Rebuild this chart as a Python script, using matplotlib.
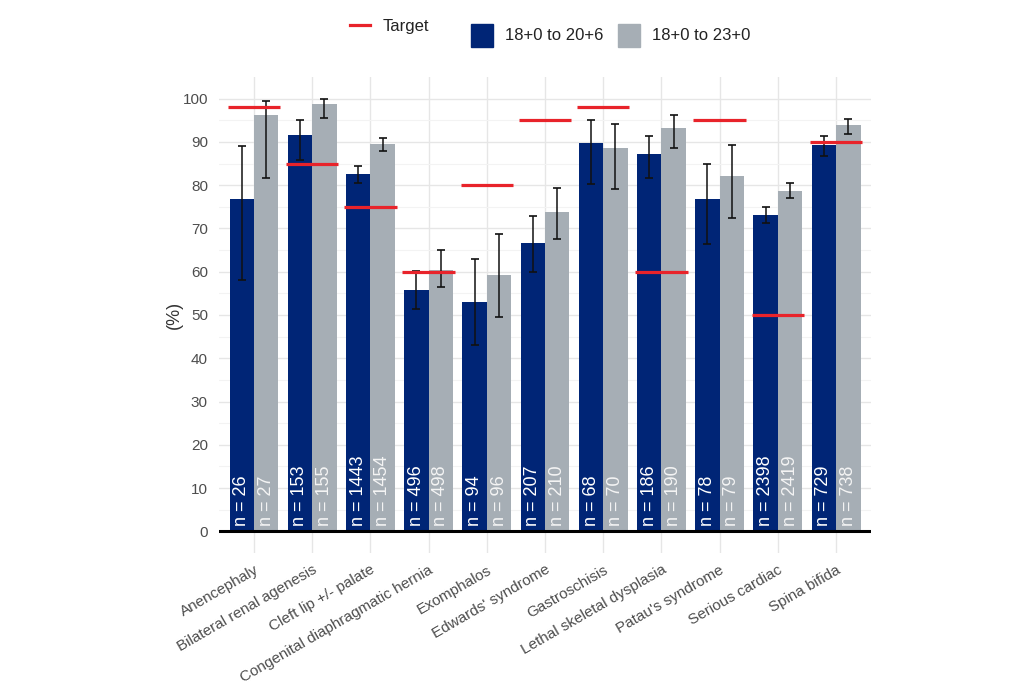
import matplotlib.pyplot as plt
from matplotlib.patches import Rectangle
from matplotlib.lines import Line2D
import numpy as np

plt.rcParams['font.family'] = ['Liberation Sans', 'DejaVu Sans']

# Data
conditions = ['Anencephaly', 'Bilateral renal agenesis', 'Cleft lip +/- palate',
              'Congenital diaphragmatic hernia', 'Exomphalos', "Edwards' syndrome",
              'Gastroschisis', 'Lethal skeletal dysplasia', "Patau's syndrome",
              'Serious cardiac', 'Spina bifida']

early_pct = [76.9, 91.5, 82.5, 55.7, 53.1, 66.6, 89.8, 87.1, 76.9, 73.0, 89.2]
early_lo = [58.1, 85.9, 80.5, 51.3, 43.1, 60.0, 80.2, 81.6, 66.4, 71.3, 86.7]
early_hi = [89.1, 95.0, 84.4, 60.2, 63.0, 72.8, 95.0, 91.3, 85.0, 74.9, 91.3]
early_n = [26, 153, 1443, 496, 94, 207, 68, 186, 78, 2398, 729]

late_pct = [96.3, 98.7, 89.5, 60.3, 59.2, 73.7, 88.6, 93.2, 82.2, 78.6, 93.8]
late_lo = [81.7, 95.5, 87.8, 56.5, 49.5, 67.5, 79.0, 88.6, 72.5, 77.1, 91.9]
late_hi = [99.4, 99.8, 91.0, 64.9, 68.7, 79.4, 94.2, 96.2, 89.2, 80.4, 95.4]
late_n = [27, 155, 1454, 498, 96, 210, 70, 190, 79, 2419, 738]

targets = [98, 85, 75, 60, 80, 95, 98, 60, 95, 50, 90]

navy = '#002576'
grey = '#A6AEB5'
red = '#E8232A'

fig = plt.figure(figsize=(10.24, 6.86), dpi=100)
ax = fig.add_axes([0.2139, 0.1939, 0.6367, 0.6939])

x = np.arange(len(conditions))
w = 0.42

early_pct = np.array(early_pct)
late_pct = np.array(late_pct)
early_err = [early_pct - np.array(early_lo), np.array(early_hi) - early_pct]
late_err = [late_pct - np.array(late_lo), np.array(late_hi) - late_pct]

ax.bar(x - w / 2, early_pct, width=w, color=navy, zorder=2)
ax.bar(x + w / 2, late_pct, width=w, color=grey, zorder=2)

ax.errorbar(x - w / 2, early_pct, yerr=early_err, fmt='none', ecolor='#111111',
            elinewidth=1.1, capsize=3, capthick=1.2, zorder=3)
ax.errorbar(x + w / 2, late_pct, yerr=late_err, fmt='none', ecolor='#111111',
            elinewidth=1.1, capsize=3, capthick=1.2, zorder=3)

ax.hlines(targets, x - 0.45, x + 0.45, colors=red, linewidth=2.3, zorder=4)

for xi, n in zip(x, early_n):
    ax.text(xi - w / 2, 1.3, f'n = {n}', rotation=90, ha='center', va='bottom',
            color='white', fontsize=13, zorder=5)
for xi, n in zip(x, late_n):
    ax.text(xi + w / 2, 1.3, f'n = {n}', rotation=90, ha='center', va='bottom',
            color='#F4F4F4', fontsize=13, zorder=5)

ax.axhline(0, color='black', linewidth=2.2, zorder=4)

ax.set_xlim(-0.6, 10.6)
ax.set_ylim(-5, 105)
ax.set_yticks(np.arange(0, 101, 10))
ax.set_yticks(np.arange(5, 100, 10), minor=True)
ax.set_xticks(x)
ax.set_xticklabels(conditions, rotation=30, ha='right', rotation_mode='anchor',
                   fontsize=11, color='#4D4D4D')
ax.tick_params(axis='y', labelsize=11, labelcolor='#4D4D4D', length=0, pad=8)
ax.tick_params(axis='y', which='minor', length=0)
ax.tick_params(axis='x', length=0, pad=7)

ax.grid(which='major', color='#E6E6E6', linewidth=1.0, zorder=0)
ax.grid(which='minor', axis='y', color='#F3F3F3', linewidth=0.8, zorder=0)
ax.set_axisbelow(True)
for s in ax.spines.values():
    s.set_visible(False)

ax.set_ylabel('(%)', fontsize=13, color='#333333', labelpad=0)

# legend drawn at the top
fig.add_artist(Line2D([350 / 1024, 370 / 1024], [1 - 25 / 686, 1 - 25 / 686],
                      color=red, linewidth=2.3))
fig.text(383 / 1024, 1 - 26 / 686, 'Target', fontsize=12, va='center', color='#222222')
fig.add_artist(Rectangle((471 / 1024, 1 - 47 / 686), 22 / 1024, 23 / 686,
                         color=navy, transform=fig.transFigure))
fig.text(505 / 1024, 1 - 36 / 686, '18+0 to 20+6', fontsize=12, va='center', color='#222222')
fig.add_artist(Rectangle((618 / 1024, 1 - 47 / 686), 22 / 1024, 23 / 686,
                         color=grey, transform=fig.transFigure))
fig.text(652 / 1024, 1 - 36 / 686, '18+0 to 23+0', fontsize=12, va='center', color='#222222')

fig.savefig('out.png', dpi=100, facecolor='white')
